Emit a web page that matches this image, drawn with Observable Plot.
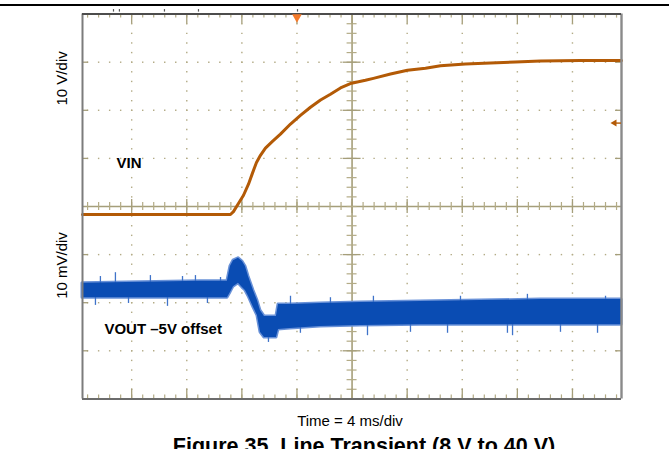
<!DOCTYPE html>
<html><head><meta charset="utf-8">
<script src="https://cdn.jsdelivr.net/npm/d3@7"></script>
<script src="https://cdn.jsdelivr.net/npm/@observablehq/plot@0.6"></script>
<style>
html,body{margin:0;padding:0;background:#fff;}
body{width:669px;height:449px;overflow:hidden;position:relative;font-family:"Liberation Sans",Arial,sans-serif;}
#topline{position:absolute;left:0;top:4px;width:669px;height:2px;background:#000;}
#chart{position:absolute;left:0;top:0;}
#xlabel{position:absolute;left:250px;width:200px;top:413px;text-align:center;font-size:15px;line-height:15px;color:#000;}
#title{position:absolute;left:0;width:728px;top:435px;text-align:center;font-size:21.5px;line-height:22px;font-weight:bold;color:#000;white-space:nowrap;}
</style></head><body>
<div id="chart"></div>
<div id="topline"></div>
<div id="xlabel">Time = 4 ms/div</div>
<div id="title">Figure 35. Line Transient (8 V to 40 V)</div>
<script>
// ---- data (time in ms, trigger at 0) ----
const vinTime  = [-15.57,-4.83,-4.61,-4.25,-3.88,-3.52,-3.23,-2.94,-2.65,-2.29,-1.78,-1.20,-0.47,0.25,0.98,1.71,2.43,3.16,3.96,4.97,5.55,6.79,8.02,9.33,10.42,12.23,14.05,15.86,17.68,20.58,23.56];
const vinVolts = [8,8,8.6,10.3,12.0,14.3,16.6,18.8,20.3,21.8,23.2,24.7,26.8,28.6,30.3,31.8,33.0,34.3,35.3,35.9,36.3,37.2,38.0,38.4,38.9,39.3,39.5,39.7,39.9,40.0,40.0];

const voutTime = [-15.57,-7.01,-5.05,-4.83,-4.61,-4.25,-3.96,-3.74,-3.52,-3.16,-2.87,-2.65,-2.36,-1.49,-1.34,-0.47,1.71,4.61,8.97,13.32,17.68,23.56];
const voutHigh = [1.5,1.9,1.9,5.0,6.2,6.7,6.0,5.0,2.9,0,-2.1,-4.2,-5.4,-5.4,-2.9,-2.9,-2.7,-2.5,-2.3,-2.1,-1.9,-1.9];
const voutLow  = [-1.5,-1.5,-1.5,-0.4,0.8,1.5,0.6,0,-1.2,-3.5,-5.2,-8.7,-9.8,-9.8,-8.1,-7.9,-7.5,-7.3,-7.1,-7.1,-7.1,-7.1];

const spikeTime = [-14.63,-14.27,-13.18,-12.23,-10.64,-9.40,-8.31,-7.37,-6.50,-5.55,-2.07,-0.47,0.25,2.43,5.12,5.55,8.24,10.93,11.87,15.28,15.65,16.73,19.13,21.82,22.40];
const spikeFrom = [-1.0,1.0,1.0,-1.0,1.0,-1.0,1.0,1.0,-1.0,1.0,-9.0,-3.5,-7.5,-3.0,-7.0,-3.0,-7.0,-7.0,-2.6,-7.0,-7.0,-2.5,-7.0,-7.0,-2.5];
const spikeTo   = [-3.1,2.9,3.7,-2.7,3.1,-3.3,2.9,3.1,-2.7,2.7,-10.8,-1.2,-8.9,-1.5,-9.4,-1.2,-8.7,-8.9,-1.2,-8.9,-9.4,-0.8,-8.7,-8.9,-1.2];

const triggerTime = 0;       // ms
const triggerLevel = 27;     // V (VIN)
const statusMarks = [-13.32,-12.89,-9.62,-7.15,0.04];

const vinVoltsPerDiv = 10, vinGroundDiv = -0.966;
const voutMvPerDiv = 10, voutRefDiv = -1.746;

const labels = {vinScale:"10 V/div", voutScale:"10 mV/div", vin:"VIN", vout:"VOUT \u20135V offset"};

// ---- layout ----
const W = 669, H = 408, ML = 82, MR = 48, MT = 13.6, MB = 9.6;
const xDomain = [-15.57, 23.56], yDomain = [-4, 4];
const pxPerDiv = (H - MT - MB) / 8;
const pxPerMs = (W - ML - MR) / (xDomain[1] - xDomain[0]);
const vinDiv = v => v / vinVoltsPerDiv + vinGroundDiv;
const voutDiv = mv => mv / voutMvPerDiv + voutRefDiv;

const vin = vinTime.map((t,i)=>({t, v: vinVolts[i]}));
const vout = voutTime.map((t,i)=>({t, hi: voutHigh[i], lo: voutLow[i]}));
const spikes = spikeTime.map((t,i)=>({t, a: spikeFrom[i], b: spikeTo[i]}));

const majorX = [-12,-8,-4,0,4,8,12,16,20];
const centerX = 4;
const minorX = d3.range(-19,30).map(i=>+(i*0.8).toFixed(2)).filter(t=>t>xDomain[0]+0.1 && t<xDomain[1]-0.1);
const majorY = [-3,-2,-1,1,2,3];
const minorY = d3.range(-19,20).map(i=>+(i*0.2).toFixed(2));

const dots = [];
for (const y of majorY) for (const x of minorX) dots.push({x,y});
for (const x of majorX) if (x !== centerX) for (const y of minorY) if (y !== 0) dots.push({x,y});

const grid = "#b3ab86";
const axisC = "#a59e7a";
const dy = px => px / pxPerDiv;
const dx = px => px / pxPerMs;

const chart = Plot.plot({
  width: W, height: H,
  marginLeft: ML, marginRight: MR, marginTop: MT, marginBottom: MB,
  x: {domain: xDomain, axis: null},
  y: {domain: yDomain, axis: null},
  style: {fontFamily: "Liberation Sans, Arial, sans-serif", background: "#fff", overflow: "visible"},
  marks: [
    // dotted grid
    Plot.dot(dots, {x:"x", y:"y", symbol:"square", r:0.8, fill:grid, stroke:"none"}),
    // center axes
    Plot.ruleY([0], {stroke: axisC, strokeWidth: 1.6}),
    Plot.ruleX([centerX], {stroke: axisC, strokeWidth: 1.6}),
    // ticks on center horizontal axis
    Plot.ruleX(minorX, {x:d=>d, y1: dy(-4), y2: dy(4), stroke: grid, strokeWidth: 1.2}),
    Plot.ruleX(majorX, {x:d=>d, y1: dy(-7), y2: dy(7), stroke: axisC, strokeWidth: 1.3}),
    // ticks on center vertical axis
    Plot.ruleY(minorY, {y:d=>d, x1: centerX-dx(5), x2: centerX+dx(5), stroke: grid, strokeWidth: 1.2}),
    Plot.ruleY(majorY, {y:d=>d, x1: centerX-dx(9), x2: centerX+dx(9), stroke: axisC, strokeWidth: 1.3}),
    // top / bottom edge ticks
    Plot.ruleX(minorX, {x:d=>d, y1: 4, y2: 4-dy(4), stroke: grid, strokeWidth: 1.2}),
    Plot.ruleX(majorX, {x:d=>d, y1: 4, y2: 4-dy(10), stroke: axisC, strokeWidth: 1.3}),
    Plot.ruleX(minorX, {x:d=>d, y1: -4, y2: -4+dy(4), stroke: grid, strokeWidth: 1.2}),
    Plot.ruleX(majorX, {x:d=>d, y1: -4, y2: -4+dy(10), stroke: axisC, strokeWidth: 1.3}),
    // left / right edge ticks
    Plot.ruleY(majorY, {y:d=>d, x1: xDomain[0], x2: xDomain[0]+dx(6), stroke: axisC, strokeWidth: 1.3}),
    Plot.ruleY(majorY, {y:d=>d, x1: xDomain[1], x2: xDomain[1]-dx(6), stroke: axisC, strokeWidth: 1.3}),
    // VOUT trace (noise envelope with lighter fringe + spikes)
    Plot.areaY(vout, {x:"t", y1: d=>voutDiv(d.lo), y2: d=>voutDiv(d.hi), fill:"#5a86d2", stroke:"#6a92d8", strokeWidth:3}),
    Plot.ruleX(spikes, {x:"t", y1: d=>voutDiv(d.a), y2: d=>voutDiv(d.b), stroke:"#3f73c9", strokeWidth:1.3}),
    Plot.areaY(vout, {x:"t", y1: d=>voutDiv(d.lo), y2: d=>voutDiv(d.hi), fill:"#0a4cb3", stroke:"none"}),
    // VIN trace
    Plot.line(vin, {x:"t", y: d=>vinDiv(d.v), stroke:"#b35a06", strokeWidth:3, strokeLinejoin:"round"}),
    // frame
    Plot.ruleX([xDomain[0]], {stroke:"#7c7c7c", strokeWidth:2}),
    Plot.ruleX([xDomain[1]], {stroke:"#8a8a8a", strokeWidth:2.4}),
    Plot.ruleY([4], {stroke:"#4c4c4c", strokeWidth:2}),
    Plot.ruleY([-4], {stroke:"#6c6c6c", strokeWidth:2}),
    // scope markers
    Plot.ruleX(statusMarks, {x:d=>d, y1: 4+dy(2), y2: 4+dy(4.5), stroke:"#555", strokeWidth:1.2}),
    Plot.dot([triggerTime], {x:d=>d, y: 4, dy: 3, symbol:"triangle", rotate:180, r:3.6, fill:"#f47a2a", stroke:"none"}),
    Plot.ruleY([triggerLevel], {y: d=>vinDiv(d), x1: xDomain[1]-dx(8), x2: xDomain[1], stroke:"#b35a06", strokeWidth:1.4}),
    Plot.dot([triggerLevel], {y: d=>vinDiv(d), x: xDomain[1]-dx(7), symbol:"triangle", rotate:-90, r:2.6, fill:"#b35a06", stroke:"none"}),
    // labels
    Plot.text([labels.vinScale], {text:d=>d, frameAnchor:"left", dx:-20, y:2.1, rotate:-90, fontSize:15, fill:"#000"}),
    Plot.text([labels.voutScale], {text:d=>d, frameAnchor:"left", dx:-20, y:-1.92, rotate:-90, fontSize:15, fill:"#000"}),
    Plot.text([labels.vin], {text:d=>d, x:-13.1, y:0.894, textAnchor:"start", fontSize:15, fontWeight:"bold", fill:"#000"}),
    Plot.text([labels.vout], {text:d=>d, x:-13.98, y:-2.557, textAnchor:"start", fontSize:15, fontWeight:"bold", fill:"#000"})
  ]
});
document.getElementById("chart").appendChild(chart);
</script>
</body></html>
